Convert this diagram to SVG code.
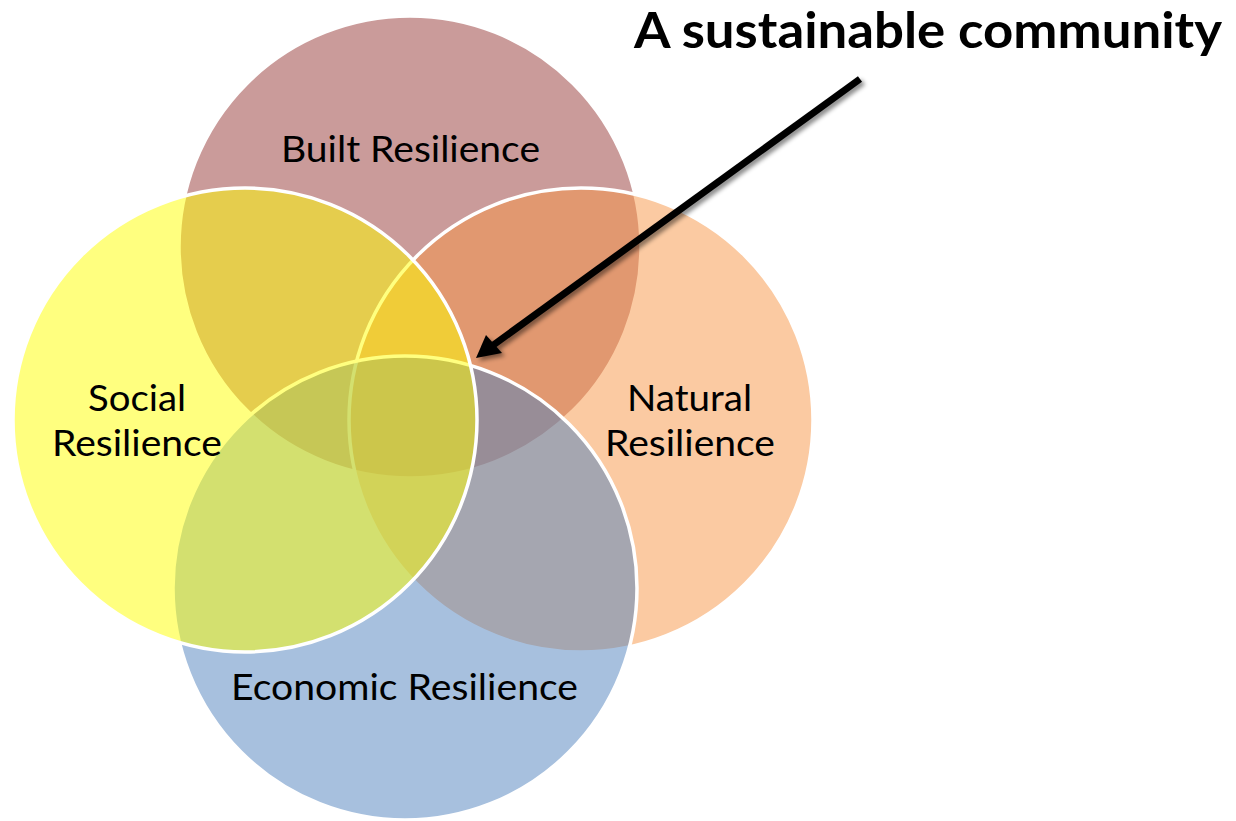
<svg xmlns="http://www.w3.org/2000/svg" width="1236" height="821" viewBox="0 0 1236 821">
<style>
.c{stroke:#ffffff;stroke-width:3.5;fill-opacity:0.5}
.lbl{font-family:Lato,"Open Sans","Liberation Sans",sans-serif;font-size:37px;fill:#000;text-anchor:start}
.title{font-family:Lato,"Open Sans","Liberation Sans",sans-serif;font-size:50px;font-weight:bold;fill:#000}
</style>
<defs>
<filter id="sh" x="-20%" y="-20%" width="140%" height="140%">
<feDropShadow dx="3" dy="3" stdDeviation="2" flood-color="#000" flood-opacity="0.45"/>
</filter>
</defs>
<rect width="1236" height="821" fill="#ffffff"/>
<g id="built"><circle class="c" cx="410" cy="247" r="231" fill="#953735"/></g>
<g id="natural"><circle class="c" cx="581" cy="420" r="232" fill="#F79646"/></g>
<g id="economic"><circle class="c" cx="405" cy="588" r="232" fill="#4F81BD"/></g>
<g id="social"><circle class="c" cx="245" cy="420" r="232" fill="#FFFF00"/></g>
<g id="labels">
<text class="lbl" x="281" y="162" textLength="259" lengthAdjust="spacingAndGlyphs">Built Resilience</text>
<text class="lbl" x="88" y="411" textLength="98" lengthAdjust="spacingAndGlyphs">Social</text>
<text class="lbl" x="52" y="456" textLength="170" lengthAdjust="spacingAndGlyphs">Resilience</text>
<text class="lbl" x="627" y="411" textLength="125" lengthAdjust="spacingAndGlyphs">Natural</text>
<text class="lbl" x="605" y="456" textLength="170" lengthAdjust="spacingAndGlyphs">Resilience</text>
<text class="lbl" x="231" y="700" textLength="347" lengthAdjust="spacingAndGlyphs">Economic Resilience</text>
</g>
<g id="title"><text class="title" x="634" y="48" textLength="588" lengthAdjust="spacingAndGlyphs">A sustainable community</text></g>
<g id="connectors" filter="url(#sh)">
<line x1="860" y1="79" x2="492" y2="346" stroke="#000" stroke-width="7" stroke-linecap="butt"/>
<polygon points="476,358 486,335 502,353" fill="#000"/>
</g>
</svg>
